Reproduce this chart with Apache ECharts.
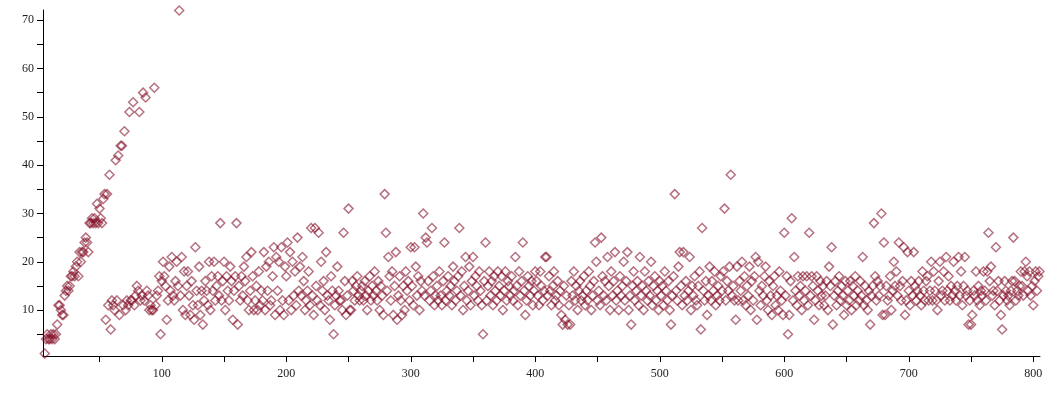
<!DOCTYPE html>
<html>
<head>
<meta charset="utf-8">
<script src="https://cdn.jsdelivr.net/npm/echarts@6/dist/echarts.min.js"></script>
<style>
html,body{margin:0;padding:0;background:#fff;}
#chart{width:1050px;height:400px;}
</style>
</head>
<body>
<div id="chart"></div>
<script>
// x positions start at this index, one value per integer step
const xStart = 6;
const yValues = [
  1,4,5,4,4,5,4,5,4,5,
  7,11,11,10,9,9,13,14,15,14,
  15,17,17,18,17,19,20,17,22,20,
  22,22,24,25,24,22,28,28,29,28,
  29,28,32,28,31,29,28,33,34,8,
  34,11,38,6,12,11,10,41,12,42,
  9,44,44,11,47,10,12,11,51,12,
  12,53,11,13,15,14,51,12,13,55,
  12,54,14,13,10,11,10,10,56,11,
  13,14,17,5,16,20,17,15,8,12,
  19,14,21,13,12,16,20,15,72,13,
  21,10,18,9,15,18,13,9,16,11,
  8,23,14,11,19,9,14,7,12,16,
  14,11,20,10,17,14,20,12,15,17,
  13,28,12,16,20,10,17,14,12,19,
  16,8,14,17,28,7,15,12,17,13,
  19,16,21,12,10,14,22,17,10,12,
  15,10,18,11,14,12,22,10,19,14,
  20,11,12,17,23,9,21,14,20,10,
  23,12,9,19,17,24,12,22,10,20,
  13,18,11,25,14,19,13,21,16,10,
  12,14,18,11,27,13,9,27,15,12,
  26,11,20,14,16,10,22,13,12,8,
  17,14,5,11,13,19,14,12,12,10,
  26,16,9,13,31,10,10,16,14,12,
  15,17,13,12,14,15,12,16,13,10,
  14,17,12,15,13,18,14,12,16,10,
  15,13,9,34,26,14,21,17,12,18,
  9,15,22,8,13,17,12,9,15,10,
  18,14,16,12,23,15,11,23,19,13,
  17,10,16,14,30,13,25,24,16,12,
  14,27,17,11,13,15,12,18,13,11,
  16,24,12,14,17,13,15,11,19,16,
  12,14,17,27,13,18,10,15,21,12,
  14,19,11,16,21,13,17,15,12,18,
  14,11,5,16,24,12,15,18,13,16,
  11,17,14,12,18,15,13,17,10,14,
  18,12,16,15,13,17,12,14,21,15,
  11,18,13,16,24,14,9,12,17,15,
  13,16,11,14,18,16,13,11,18,15,
  12,14,21,21,13,17,14,11,15,18,
  12,13,16,11,14,9,7,15,8,13,
  7,11,7,16,13,18,12,15,10,14,
  16,12,13,17,11,14,12,18,15,10,
  13,16,24,20,12,14,11,25,17,13,
  16,12,21,15,10,18,13,16,22,12,
  14,10,17,13,15,20,12,16,22,10,
  13,7,15,18,12,14,16,11,21,13,
  15,10,18,14,12,16,13,20,11,15,
  17,12,14,10,16,13,15,11,18,14,
  12,16,10,7,13,17,34,14,12,19,
  22,15,11,22,13,16,12,14,21,10,
  15,13,17,12,11,15,18,6,27,14,
  12,16,9,13,19,12,16,14,18,11,
  13,15,12,17,14,18,31,12,16,14,
  19,38,13,15,12,8,19,12,16,14,
  20,12,17,11,15,13,19,10,16,12,
  17,21,8,20,14,11,15,13,17,19,
  12,10,16,13,9,15,17,11,13,10,
  18,14,12,9,26,13,17,5,9,16,
  29,12,21,14,11,17,13,15,10,17,
  12,14,17,11,26,13,17,15,8,12,
  17,14,11,16,13,15,11,13,16,10,
  19,15,23,7,13,16,11,14,17,12,
  15,13,9,16,11,14,12,16,10,15,
  13,17,11,14,12,16,13,21,11,15,
  12,10,14,7,13,15,28,17,12,16,
  13,15,30,9,24,9,15,12,13,17,
  10,14,20,15,18,13,24,15,12,16,
  23,9,12,22,14,11,16,13,22,15,
  12,14,16,13,11,18,14,12,16,17,
  12,14,20,12,18,14,12,10,16,20,
  13,14,18,12,21,14,17,12,15,13,
  20,14,12,15,21,13,18,11,15,21,
  13,14,7,12,7,9,14,13,18,12,
  15,11,14,13,18,14,12,18,26,16,
  19,13,14,11,23,14,16,12,9,6,
  13,16,14,12,13,11,14,16,25,16,
  12,14,13,15,18,15,13,18,20,17,
  14,18,13,15,11,16,18,14,17,18
];
const xTickValues = [50,100,150,200,250,300,350,400,450,500,550,600,650,700,750,800];
const xLabelValues = [100,200,300,400,500,600,700,800];
const yTickValues = [5,10,15,20,25,30,35,40,45,50,55,60,65,70];
const yLabelValues = [10,20,30,40,50,60,70];

const points = yValues.map((v, i) => [xStart + i, v]);

const chart = echarts.init(document.getElementById('chart'), null, {renderer: 'canvas'});
const axisFont = {fontFamily: 'Liberation Serif', fontSize: 12, color: '#222'};
chart.setOption({
  animation: false,
  backgroundColor: '#fff',
  grid: {left: 43, right: 10, top: 10, bottom: 44},
  xAxis: {
    type: 'value',
    min: 4.6,
    max: 805.4,
    axisLine: {show: true, onZero: false, lineStyle: {color: '#000', width: 1}},
    axisTick: {show: true, length: 6, customValues: xTickValues, lineStyle: {color: '#000'}},
    axisLabel: Object.assign({customValues: xLabelValues, margin: 12}, axisFont),
    splitLine: {show: false}
  },
  yAxis: {
    type: 'value',
    min: 0.5,
    max: 72.1,
    axisLine: {show: true, onZero: false, lineStyle: {color: '#000', width: 1}},
    axisTick: {show: true, length: 6, customValues: yTickValues, lineStyle: {color: '#000'}},
    axisLabel: Object.assign({customValues: yLabelValues, margin: 9}, axisFont),
    splitLine: {show: false}
  },
  series: [{
    type: 'scatter',
    data: points,
    symbol: 'diamond',
    symbolSize: 9,
    itemStyle: {
      color: 'rgba(255,255,255,0)',
      borderColor: 'rgba(128,10,35,0.72)',
      borderWidth: 1.5
    }
  }]
});
</script>
</body>
</html>
